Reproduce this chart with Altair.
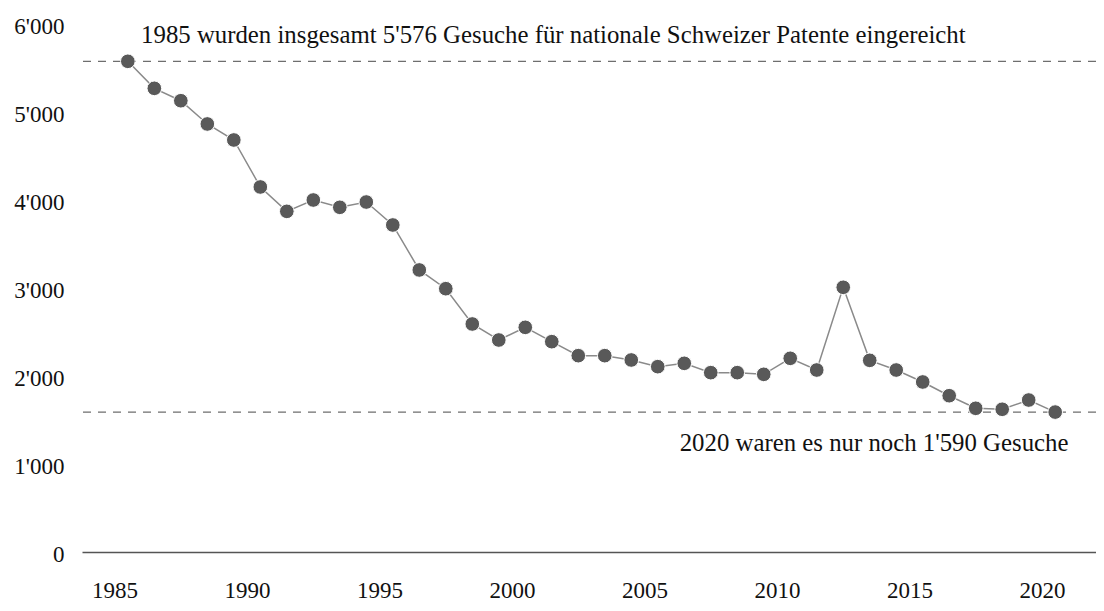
import altair as alt
import pandas as pd

years = list(range(1985, 2021))
values = [5576, 5269, 5128, 4864, 4682, 4148, 3871, 4000, 3917, 3977,
          3716, 3205, 2992, 2591, 2409, 2553, 2390, 2231, 2231, 2182,
          2106, 2144, 2038, 2038, 2019, 2201, 2068, 3008, 2178, 2068,
          1932, 1776, 1633, 1622, 1727, 1590]

ref_values = [5576, 1590]
x_ticks = [1985, 1990, 1995, 2000, 2005, 2010, 2015, 2020]
y_ticks = [0, 1000, 2000, 3000, 4000, 5000, 6000]

top_note = "1985 wurden insgesamt 5'576 Gesuche für nationale Schweizer Patente eingereicht"
bottom_note = "2020 waren es nur noch 1'590 Gesuche"

FONT = "Liberation Serif"
FS = 23
NOTE_FS = 24.8

df = pd.DataFrame({"year": years, "value": values})
refs = pd.DataFrame({"value": ref_values})
top_df = pd.DataFrame({"x": [1986], "value": [ref_values[0]], "text": [top_note]})
bot_df = pd.DataFrame({"x": [2021], "value": [ref_values[1]], "text": [bottom_note]})

xscale = alt.Scale(domain=[1983.77, 2022.04], nice=False, zero=False)
yscale = alt.Scale(domain=[0, 6000], nice=False)

x_axis = alt.Axis(values=x_ticks, format="d", ticks=False, grid=False,
                  domainColor="#555555", domainWidth=1.5, labelPadding=27,
                  labelFont=FONT, labelFontSize=FS, labelColor="#111111",
                  title=None)
y_axis = alt.Axis(values=y_ticks, ticks=False, grid=False, domain=False,
                  labelExpr="replace(format(datum.value, ','), ',', \"'\")",
                  labelPadding=18, labelOffset=2, labelFont=FONT,
                  labelFontSize=FS, labelColor="#111111", title=None)


def X(field):
    return alt.X(field, scale=xscale, axis=x_axis)


def Y(field):
    return alt.Y(field, scale=yscale, axis=y_axis)


base = alt.Chart(df).transform_calculate(xpos="datum.year + 0.5")

line = base.mark_line(color="#8a8a8a", strokeWidth=1.5).encode(
    x=X("xpos:Q"), y=Y("value:Q"),
)

points = base.mark_circle(size=215, color="#595959", opacity=1,
                          stroke="white", strokeWidth=1).encode(
    x=X("xpos:Q"), y=Y("value:Q"),
)

rules = alt.Chart(refs).mark_rule(strokeDash=[8, 7], color="#6e6e6e",
                                  strokeWidth=1.2).encode(
    y=Y("value:Q"),
)

top_text = alt.Chart(top_df).mark_text(align="left", baseline="alphabetic",
                                       dy=-18, font=FONT, fontSize=NOTE_FS,
                                       color="#111111").encode(
    x=X("x:Q"), y=Y("value:Q"), text="text:N",
)

bot_text = alt.Chart(bot_df).mark_text(align="right", baseline="alphabetic",
                                       dy=39, font=FONT, fontSize=NOTE_FS,
                                       color="#111111").encode(
    x=X("x:Q"), y=Y("value:Q"), text="text:N",
)

chart = alt.layer(rules, line, points, top_text, bot_text).properties(
    width=1014,
    height=528,
    background="white",
    autosize=alt.AutoSizeParams(type="none"),
    padding={"left": 74, "top": 16, "right": 0, "bottom": 51},
).configure_view(stroke=None)

chart.save("out.html", embed_options={"renderer": "svg", "actions": False})
